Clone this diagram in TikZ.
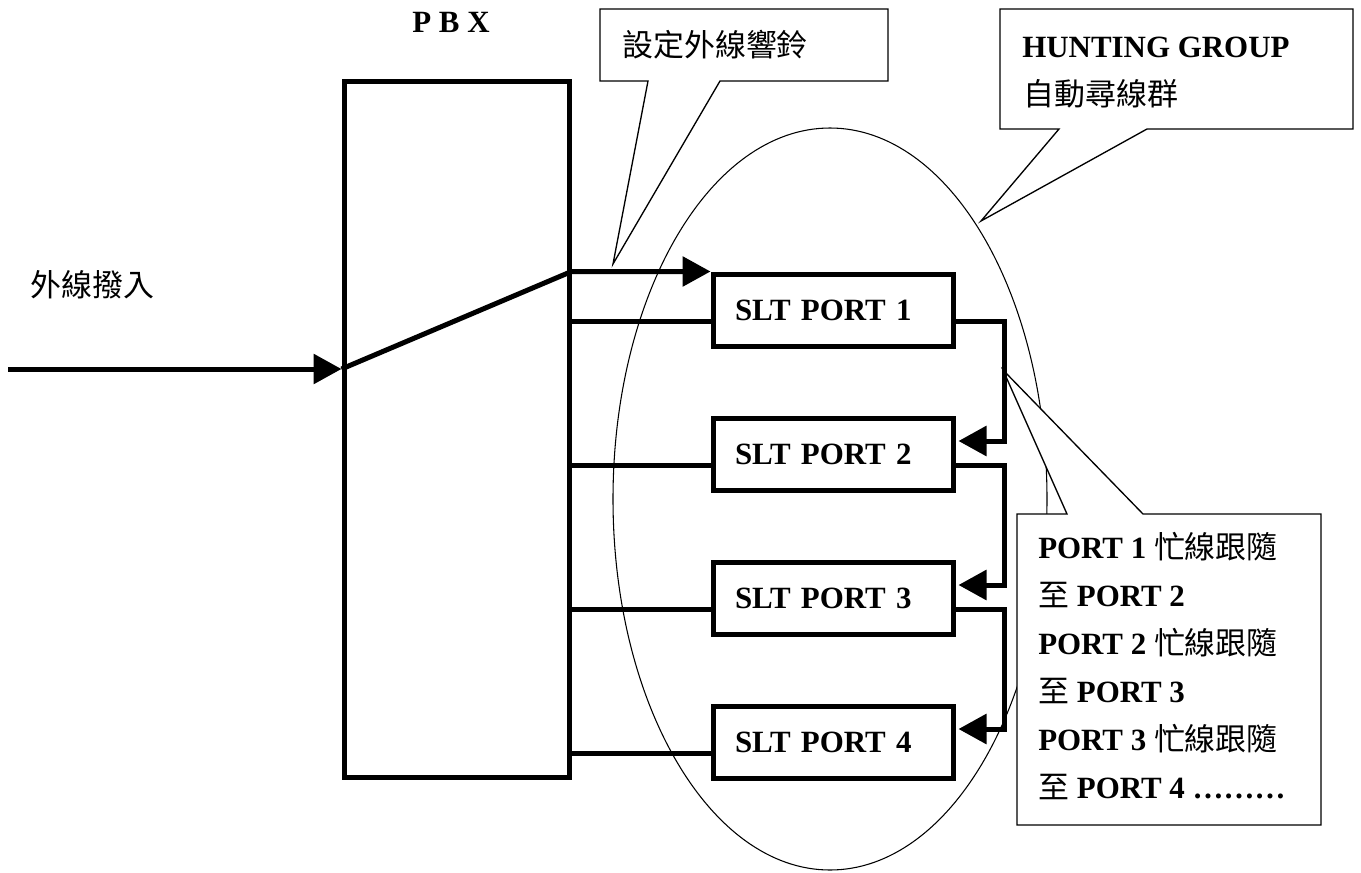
\documentclass[tikz,border=0pt]{standalone}
\usepackage{fontspec}
\setmainfont{Liberation Serif}
\newfontfamily\cjk{Noto Sans CJK TC}
\usetikzlibrary{arrows.meta,calc,shapes.geometric}
\newcommand{\zh}[1]{{\mdseries\cjk #1}}
\tikzset{
  wire/.style={line width=3.75pt},
  arr/.style={-{Triangle[length=21pt,width=22pt]}},
  port/.style={draw, rectangle, line width=3.75pt, inner xsep=16.5pt, inner ysep=0pt,
    text width=147pt, minimum height=54pt, align=left,
    font=\fontsize{23.2}{28}\selectfont\bfseries},
  bubble/.style={draw, fill=white, line width=1pt},
  txt/.style={inner sep=0pt, anchor=base west, font=\fontsize{23.2}{28}\selectfont},
}

\begin{document}
\begin{tikzpicture}[x=0.75pt, y=-0.75pt]
            \useasboundingbox (0,0) rectangle (1361,872);
            \node[draw, ellipse, line width=0.8pt, inner sep=0pt, minimum width=325.5pt, minimum height=556.5pt] (grp) at (830,499) {};
            \draw[bubble] (600,9) -- (888,9) -- (888,81) -- (720,81) -- (613,264) -- (648,81) -- (600,81) -- cycle;
            \draw[bubble] (1000,9) -- (1353,9) -- (1353,129) -- (1147,129) -- (981,221) -- (1059,129) -- (1000,129) -- cycle;
            \draw[bubble] (1017,514) -- (1067,514) -- (1003,370) -- (1143,514) -- (1321,514) -- (1321,825) -- (1017,825) -- cycle;
            \node[draw, wire, inner sep=0pt, minimum width=168.75pt, minimum height=522pt] (pbx) at (456.5,429) {};
            \foreach \i/\y in {1/310,2/454,3/598,4/742}
                \node[port] (p\i) at (833,\y) {SLT PORT \i};
            \coordinate (src) at (8,369);
            \draw[wire,arr] (src) -- (src -| pbx.west);
            \draw[wire,arr] (src -| pbx.west) -- (pbx.east |- p1.north) -- (p1.north west);
            \foreach \i in {1,...,4}
                \draw[wire] ($(pbx.east |- p\i.west)+(0,11)$) -- ($(p\i.west)+(0,11)$);
            \foreach \i/\j in {1/2,2/3,3/4}
                \draw[wire,arr] ($(p\i.east)+(0,11)$) -- ++(49,0) |- ($(p\j.east)+(3,-13)$);
            \node[txt, anchor=base] (pbxname) at (451,32) {\bfseries P B X};
            \node[txt] (incall) at (30,296) {\cjk 外線撥入};
            \node[txt] (ring) at (622,56) {\cjk 設定外線響鈴};
            \node[txt] (hunt) at (1022,57) {\bfseries HUNTING GROUP};
            \node[txt] (huntzh) at (1023,105) {\cjk 自動尋線群};
            \node[txt] (busy1) at (1038,558) {\bfseries PORT 1 \zh{忙線跟隨}};
            \node[txt] (to2) at (1038,606) {\bfseries \zh{至} PORT 2};
            \node[txt] (busy2) at (1038,654) {\bfseries PORT 2 \zh{忙線跟隨}};
            \node[txt] (to3) at (1038,702) {\bfseries \zh{至} PORT 3};
            \node[txt] (busy3) at (1038,750) {\bfseries PORT 3 \zh{忙線跟隨}};
            \node[txt] (to4) at (1038,798) {\bfseries \zh{至} PORT 4 ………};
        \end{tikzpicture}
\end{document}
